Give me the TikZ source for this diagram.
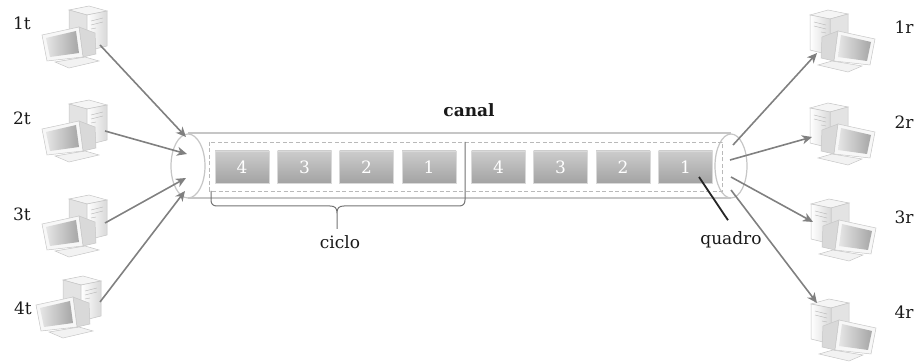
\documentclass[tikz,border=0pt]{standalone}
\usepackage{fontspec}
\setmainfont{DejaVu Serif}
\usetikzlibrary{arrows.meta}

\tikzset{
  pcline/.style={draw=gray!45, line width=0.5pt},
  pc/.pic={
    \draw[pcline, fill=gray!8] (-6,-27) -- (14,-31) -- (32,-26) -- (12,-22) -- cycle;
    \draw[pcline, fill=gray!22] (-6,-27) -- (12,-22) -- (12,14) -- (-6,8) -- cycle;
    \draw[pcline, left color=white, right color=gray!30] (12,-22) -- (32,-26) -- (32,9) -- (12,14) -- cycle;
    \draw[gray!55] (16,-16) -- (28,-19) (16,-12) -- (28,-15) (16,-8) -- (21,-9);
    \draw[pcline, fill=gray!10] (-20,25) -- (10,20) -- (24,24) -- (-6,31) -- cycle;
    \draw[pcline, fill=gray!30] (4,-10) -- (20,-4) -- (21,17) -- (8,20) -- cycle;
    \draw[pcline, fill=gray!6] (-33,-2) -- (4,-10) -- (8,20) -- (-28,24) -- cycle;
    \shade[left color=gray!20, right color=gray!70] (-29,1) -- (1,-6) -- (4,16) -- (-25,20) -- cycle;
  }
}

\begin{document}
\begin{tikzpicture}[x=1pt, y=-1pt,
  lbl/.style={font=\fontsize{17}{19}\selectfont, text=black!90},
  arr/.style={draw=black!50, line width=1.6pt, -{Stealth[length=10pt,width=9pt,inset=3pt]}},
  tube/.style={draw=gray!45, line width=1.2pt},
  frame/.style={minimum width=54pt, minimum height=32pt, inner sep=0pt, draw=gray!30,
    top color=gray!40, bottom color=gray!72, text=white, font=\fontsize{17}{19}\selectfont}]
\useasboundingbox (0,0) rectangle (919,363);

% channel
\fill[white] (188,133) rectangle (731,198);
\draw[tube] (188,133) -- (731,133) (188,198) -- (731,198);
\draw[tube] (188,166) ellipse [x radius=17, y radius=32];
\draw[tube] (731,166) ellipse [x radius=16, y radius=32];
\draw[gray!55, line width=0.8pt, dash pattern=on 4pt off 2.5pt] (209,142) rectangle (722,191);

\node[frame] (a4) at (242,167) {4};
\node[frame] (a3) at (304.5,167) {3};
\node[frame] (a2) at (366.5,167) {2};
\node[frame] (a1) at (429,167) {1};
\node[frame] (b4) at (498.5,167) {4};
\node[frame] (b3) at (560.5,167) {3};
\node[frame] (b2) at (623,167) {2};
\node[frame] (b1) at (685.5,167) {1};

% cycle brace
\draw[black!55, line width=1pt] (211,191) -- (211,200) .. controls (211,204) and (213,206) .. (217,206)
  -- (330,206) .. controls (335,206) and (337,208) .. (337,213) -- (337,229)
  (337,213) .. controls (337,208) and (339,206) .. (344,206)
  -- (459,206) .. controls (463,206) and (465,204) .. (465,200) -- (465,142);

\node[lbl, font=\fontsize{17}{19}\selectfont\bfseries] (canal) at (469,110) {canal};
\node[lbl] (ciclo) at (340,242) {ciclo};
\node[lbl] (quadro) at (731,240) {quadro};
\coordinate (qtip) at (699,177);
\draw[black!85, line width=1.8pt] (qtip) -- ([xshift=-3pt, yshift=8pt]quadro.north);

% computers
\pic (t1) at (75,37) {pc};
\pic (t2) at (75,131) {pc};
\pic (t3) at (75,226) {pc};
\pic (t4) at (69,307) {pc};
\pic[xscale=-1] (r1) at (842,41) {pc};
\pic[xscale=-1] (r2) at (842,134) {pc};
\pic[xscale=-1] (r3) at (843,230) {pc};
\pic[xscale=-1] (r4) at (843,330) {pc};

\node[lbl] (n1t) at (22,23) {1t};
\node[lbl] (n2t) at (22,118) {2t};
\node[lbl] (n3t) at (22,214) {3t};
\node[lbl] (n4t) at (23,308) {4t};
\node[lbl] (n1r) at (904,27) {1r};
\node[lbl] (n2r) at (904,122) {2r};
\node[lbl] (n3r) at (904,217) {3r};
\node[lbl] (n4r) at (904,312) {4r};

% links
\coordinate (s1) at (100,45);
\coordinate (s2) at (105,131);
\coordinate (s3) at (105,223);
\coordinate (s4) at (100,302);
\coordinate (in1) at (186,137);
\coordinate (in2) at (187,154);
\coordinate (in3) at (186,178);
\coordinate (in4) at (185,191);
\coordinate (out1) at (733,145);
\coordinate (out2) at (730,160);
\coordinate (out3) at (731,177);
\coordinate (out4) at (731,190);
\coordinate (e1) at (817,53);
\coordinate (e2) at (812,137);
\coordinate (e3) at (813,222);
\coordinate (e4) at (817,303);
\draw[arr] (s1) -- (in1);
\draw[arr] (s2) -- (in2);
\draw[arr] (s3) -- (in3);
\draw[arr] (s4) -- (in4);
\draw[arr] (out1) -- (e1);
\draw[arr] (out2) -- (e2);
\draw[arr] (out3) -- (e3);
\draw[arr] (out4) -- (e4);
\end{tikzpicture}
\end{document}
